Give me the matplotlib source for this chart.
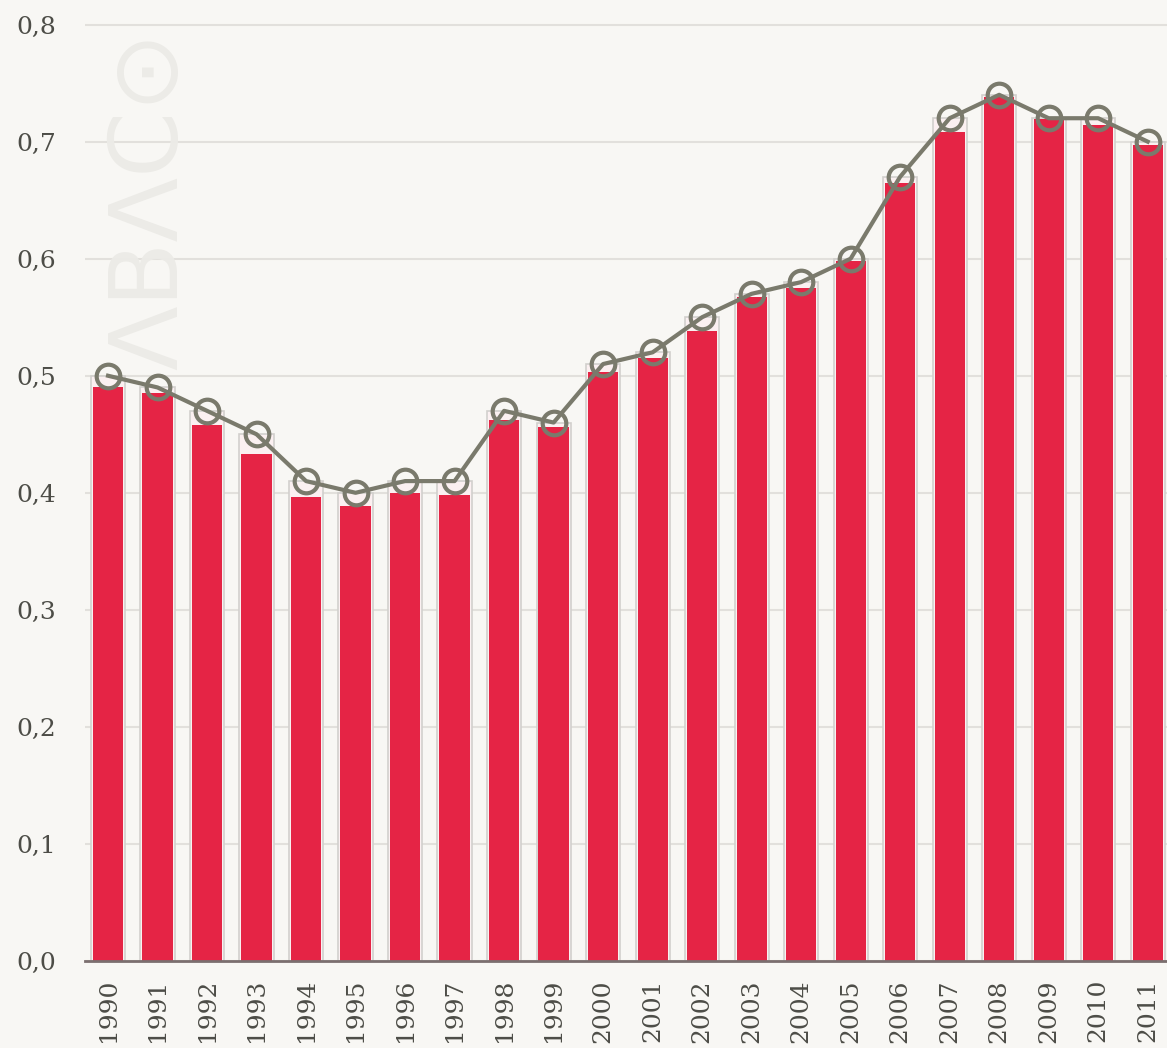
import matplotlib
matplotlib.use("Agg")
import matplotlib.pyplot as plt
from matplotlib.ticker import FuncFormatter

years = [str(y) for y in range(1990, 2012)]
line_vals = [0.50, 0.49, 0.47, 0.45, 0.41, 0.40, 0.41, 0.41, 0.47, 0.46, 0.51,
             0.52, 0.55, 0.57, 0.58, 0.60, 0.67, 0.72, 0.74, 0.72, 0.72, 0.70]
bar_vals = [0.490, 0.485, 0.458, 0.433, 0.396, 0.389, 0.400, 0.398, 0.462, 0.456, 0.503,
            0.515, 0.538, 0.567, 0.575, 0.598, 0.665, 0.708, 0.738, 0.719, 0.714, 0.697]

bg = "#f8f7f4"
fig = plt.figure(figsize=(11.67, 10.48), dpi=100, facecolor=bg)
ax = fig.add_axes([85 / 1167, 1 - 961 / 1048, 1 - 85 / 1167, 961 / 1048])
ax.set_facecolor(bg)

# watermark
fig.text(151 / 1167, 1 - 200 / 1048, "ΛBΛC⊙", rotation=90, fontsize=68,
         color="#ecebe7", ha="center", va="center", family="DejaVu Sans",
         zorder=0)

x = range(len(years))
ax.bar(x, line_vals, width=0.69, color="#fbf0f1", edgecolor="#d2d0cd",
       linewidth=1.2, zorder=2)
ax.bar(x, bar_vals, width=0.61, color="#e52445", linewidth=0, zorder=3)
ax.plot(x, line_vals, color="#7a7a6c", linewidth=3, marker="o", markersize=17,
        markerfacecolor="none", markeredgewidth=3, zorder=4)

ax.set_xlim(-0.465, 21.39)
ax.set_ylim(0, 0.821)
ax.set_yticks([i / 10 for i in range(9)])
ax.yaxis.set_major_formatter(FuncFormatter(lambda v, p: f"{v:.1f}".replace(".", ",")))
ax.set_xticks(list(x))
ax.set_xticklabels(years, rotation=90)
ax.grid(axis="y", color="#e2e0dc", linewidth=1.5, zorder=0)
ax.set_axisbelow(True)
for s in ["top", "right", "left"]:
    ax.spines[s].set_visible(False)
ax.spines["bottom"].set_color("#7b6f6f")
ax.spines["bottom"].set_linewidth(2)
ax.spines["bottom"].set_zorder(5)
ax.tick_params(axis="both", length=0, labelsize=18, labelcolor="#4d4d47")
ax.tick_params(axis="y", pad=21)
ax.tick_params(axis="x", pad=13)
for lab in ax.get_xticklabels() + ax.get_yticklabels():
    lab.set_family("DejaVu Serif")

fig.savefig("out.png", dpi=100, facecolor=bg)
